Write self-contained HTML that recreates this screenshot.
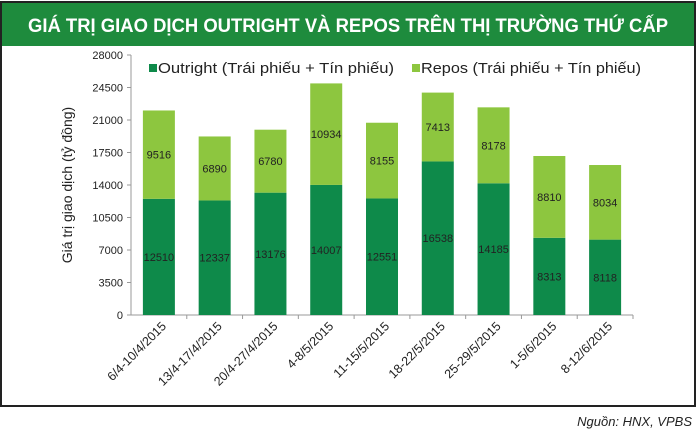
<!DOCTYPE html>
<html><head><meta charset="utf-8"><style>
body{margin:0;width:700px;height:434px;background:#fff;overflow:hidden;font-family:"Liberation Sans","DejaVu Sans",sans-serif}
</style></head><body>
<svg id="c" width="700" height="434" xmlns="http://www.w3.org/2000/svg">
<rect x="1" y="2" width="694" height="404" fill="#fff" stroke="#222" stroke-width="2"/>
<rect x="2" y="3" width="692" height="43" fill="#1e8b3d"/>
<text x="348" y="32" text-anchor="middle" fill="#fff" font-weight="bold" font-size="19" textLength="640" lengthAdjust="spacingAndGlyphs">GIÁ TRỊ GIAO DỊCH OUTRIGHT VÀ REPOS TRÊN THỊ TRƯỜNG THỨ CẤP</text>
<text transform="translate(72,185) rotate(-90)" text-anchor="middle" font-size="14" fill="#222">Giá trị giao dịch (tỷ đồng)</text>
<rect x="149" y="64" width="8" height="8" fill="#0e8a4a"/>
<text x="158" y="73" font-size="15" fill="#222" textLength="236" lengthAdjust="spacingAndGlyphs">Outright (Trái phiếu + Tín phiếu)</text>
<rect x="412" y="64" width="8" height="8" fill="#8dc63f"/>
<text x="421" y="73" font-size="15" fill="#222" textLength="220" lengthAdjust="spacingAndGlyphs">Repos (Trái phiếu + Tín phiếu)</text>
<g id="g"></g>
<text x="692" y="426" text-anchor="end" font-size="13" font-style="italic" fill="#222">Nguồn: HNX, VPBS</text>
</svg>
<script>
const categories=["6/4-10/4/2015","13/4-17/4/2015","20/4-27/4/2015","4-8/5/2015","11-15/5/2015","18-22/5/2015","25-29/5/2015","1-5/6/2015","8-12/6/2015"];
const outright=[12510,12337,13176,14007,12551,16538,14185,8313,8118];
const repos=[9516,6890,6780,10934,8155,7413,8178,8810,8034];
const yTicks=[0,3500,7000,10500,14000,17500,21000,24500,28000];
const NS="http://www.w3.org/2000/svg";
const g=document.getElementById('g');
const x0=131,x1=633,yBase=315,yTop=55,yMax=28000;
const y=v=>yBase-(v/yMax)*(yBase-yTop);
const bw=(x1-x0)/categories.length;
const xc=i=>x0+bw*(i+0.5);
function mk(t,a){const e=document.createElementNS(NS,t);for(const k in a)e.setAttribute(k,a[k]);g.appendChild(e);return e;}
let ax=mk('line',{x1:x0,y1:yTop,x2:x0,y2:yBase,stroke:'#999'});


yTicks.forEach(v=>{
 const t=mk('text',{x:x0-8,y:y(v)+4,'text-anchor':'end','font-size':11,fill:'#222'});
 
 
 t.textContent=v;
 mk('line',{x1:x0-4,y1:y(v),x2:x0,y2:y(v),stroke:'#999'});
});
let xa=mk('line',{x1:x0,y1:yBase,x2:x1,y2:yBase,stroke:'#999'});


categories.forEach((c,i)=>{
 const cx=xc(i),w=32;
 const b1=mk('rect',{x:cx-w/2,y:y(outright[i]),width:w,height:yBase-y(outright[i]),fill:'#0e8a4a'});
 
 
 const tot=outright[i]+repos[i];
 const b2=mk('rect',{x:cx-w/2,y:y(tot),width:w,height:y(outright[i])-y(tot),fill:'#8dc63f'});
 
 
 const l1=mk('text',{x:cx,y:(y(outright[i])+yBase)/2+4,'text-anchor':'middle','font-size':11,fill:'#222'});
 
 
 l1.textContent=outright[i];
 const l2=mk('text',{x:cx,y:(y(outright[i])+y(tot))/2+4,'text-anchor':'middle','font-size':11,fill:'#222'});
 
 
 l2.textContent=repos[i];
 mk('line',{x1:x0+bw*(i+1),y1:yBase,x2:x0+bw*(i+1),y2:yBase+4,stroke:'#999'});
 const xl=mk('text',{x:cx+8,y:yBase+12,'text-anchor':'end','font-size':12.5,fill:'#222',transform:`rotate(-45 ${cx+8} ${yBase+12})`});
 
 
 xl.textContent=c;
});
</script>
</body></html>
